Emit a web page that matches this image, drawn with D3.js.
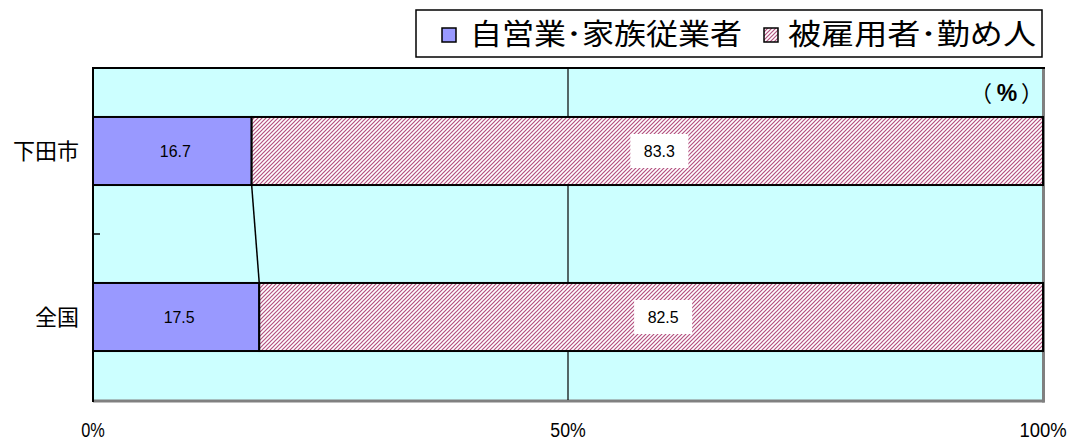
<!DOCTYPE html>
<html>
<head>
<meta charset="utf-8">
<script src="https://cdn.jsdelivr.net/npm/d3@7"></script>
<style>
  html, body { margin: 0; padding: 0; background: #fff; }
  svg { display: block; }
</style>
</head>
<body>
<svg id="chart" width="1070" height="441"></svg>
<script>
// Employment status share (%) — 下田市 vs 全国
const categories = ["下田市", "全国"];
const seriesNames = ["自営業･家族従業者", "被雇用者･勤め人"];
const selfEmployed = [16.7, 17.5];
const employees = [83.3, 82.5];
const tickValues = [0, 50, 100];
const tickLabels = ["0%", "50%", "100%"];

const svg = d3.select("#chart");
const plot = { left: 93, right: 1043, top: 68, bottom: 400 };

const x = d3.scaleLinear().domain([0, 100]).range([plot.left, plot.right]);
const y = d3.scaleBand().domain(categories)
  .range([plot.top, plot.bottom])
  .paddingInner(0.59).paddingOuter(0.295);

const jp = "'Noto Sans CJK JP', 'Noto Sans', sans-serif";
const num = "'Liberation Sans', Arial, sans-serif";

// diagonal hatch for the employee series
const defs = svg.append("defs");
const pat = defs.append("pattern")
  .attr("id", "hatch").attr("patternUnits", "userSpaceOnUse")
  .attr("width", 4).attr("height", 4);
pat.append("rect").attr("width", 4).attr("height", 4).attr("fill", "#fff");
pat.append("path")
  .attr("d", "M-1,1 L1,-1 M0,4 L4,0 M3,5 L5,3")
  .attr("stroke", "#b4507f").attr("stroke-width", 1.2);

// plot-area background with gray shadow on bottom/right
svg.append("rect")
  .attr("x", plot.left).attr("y", plot.top)
  .attr("width", plot.right - plot.left).attr("height", plot.bottom - plot.top)
  .attr("fill", "#ccffff");
svg.append("line")
  .attr("x1", plot.left).attr("x2", plot.right + 1.5)
  .attr("y1", plot.bottom + 1).attr("y2", plot.bottom + 1)
  .attr("stroke", "#808080").attr("stroke-width", 3);
svg.append("line")
  .attr("x1", plot.right + 0.5).attr("x2", plot.right + 0.5)
  .attr("y1", plot.top).attr("y2", plot.bottom + 2.5)
  .attr("stroke", "#808080").attr("stroke-width", 3);

// 50% gridline
svg.append("g").selectAll("line")
  .data(tickValues.filter(v => v > 0 && v < 100))
  .join("line")
  .attr("x1", d => x(d)).attr("x2", d => x(d))
  .attr("y1", plot.top).attr("y2", plot.bottom)
  .attr("stroke", "#000").attr("stroke-width", 1.2);

// top and left frame
svg.append("path")
  .attr("d", `M${plot.left},${plot.bottom + 2}V${plot.top}H${plot.right + 2}`)
  .attr("fill", "none").attr("stroke", "#000").attr("stroke-width", 2);

// category boundary tick
const boundary = (y(categories[0]) + y.bandwidth() + y(categories[1])) / 2;
svg.append("line")
  .attr("x1", plot.left).attr("x2", plot.left + 7)
  .attr("y1", boundary).attr("y2", boundary)
  .attr("stroke", "#000").attr("stroke-width", 1.5);

// stacked bars
const rows = categories.map((c, i) => ({ cat: c, a: selfEmployed[i], b: employees[i] }));
const bars = svg.append("g");
bars.selectAll("rect.a").data(rows).join("rect")
  .attr("x", x(0)).attr("y", d => y(d.cat))
  .attr("width", d => x(d.a) - x(0)).attr("height", y.bandwidth())
  .attr("fill", "#9999ff").attr("stroke", "#000").attr("stroke-width", 2);
bars.selectAll("rect.b").data(rows).join("rect")
  .attr("x", d => x(d.a)).attr("y", d => y(d.cat))
  .attr("width", d => x(d.a + d.b) - x(d.a)).attr("height", y.bandwidth())
  .attr("fill", "url(#hatch)").attr("stroke", "#000").attr("stroke-width", 2);

// series line connecting the two bars
svg.append("line")
  .attr("x1", x(rows[0].a)).attr("y1", y(rows[0].cat) + y.bandwidth())
  .attr("x2", x(rows[1].a)).attr("y2", y(rows[1].cat))
  .attr("stroke", "#000").attr("stroke-width", 1.5);

// value labels
const labA = svg.append("g");
labA.selectAll("text").data(rows).join("text")
  .attr("x", d => (x(0) + x(d.a)) / 2 + 3)
  .attr("y", d => y(d.cat) + y.bandwidth() / 2)
  .attr("dy", "0.36em").attr("text-anchor", "middle")
  .attr("font-family", num).attr("font-size", 17).attr("fill", "#000")
  .attr("textLength", 31).attr("lengthAdjust", "spacingAndGlyphs")
  .text(d => d.a.toFixed(1));

const labB = svg.append("g");
const lb = labB.selectAll("g").data(rows).join("g")
  .attr("transform", d => `translate(${(x(d.a) + x(d.a + d.b)) / 2 + 12},${y(d.cat) + y.bandwidth() / 2})`);
lb.append("rect").attr("x", -29).attr("y", -17).attr("width", 58).attr("height", 34).attr("fill", "#fff");
lb.append("text").attr("dy", "0.36em").attr("text-anchor", "middle")
  .attr("font-family", num).attr("font-size", 17).attr("fill", "#000")
  .attr("textLength", 31).attr("lengthAdjust", "spacingAndGlyphs")
  .text(d => d.b.toFixed(1));

// category labels
svg.append("g").selectAll("text").data(categories).join("text")
  .attr("x", 79).attr("y", d => y(d) + y.bandwidth() / 2)
  .attr("dy", "0.36em").attr("text-anchor", "end")
  .attr("font-family", jp).attr("font-size", 22).attr("fill", "#000")
  .text(d => d);

// x-axis tick labels
svg.append("g").selectAll("text").data(tickValues).join("text")
  .attr("x", d => x(d)).attr("y", 437)
  .attr("text-anchor", "middle")
  .attr("font-family", num).attr("font-size", 20).attr("fill", "#000")
  .attr("textLength", (d, i) => tickLabels[i].length * 11.8)
  .attr("lengthAdjust", "spacingAndGlyphs")
  .text((d, i) => tickLabels[i]);

// unit label "（%）": full-width brackets around a bold percent sign
const unitParts = [
  { t: "（", x: 981, font: jp, w: "normal", size: 22 },
  { t: "%", x: 1007, font: num, w: "bold", size: 23 },
  { t: "）", x: 1032, font: jp, w: "normal", size: 22 }
];
svg.append("g").selectAll("text").data(unitParts).join("text")
  .attr("x", d => d.x).attr("y", 93).attr("dy", "0.36em")
  .attr("text-anchor", "middle")
  .attr("font-family", d => d.font).attr("font-weight", d => d.w)
  .attr("font-size", d => d.size).attr("fill", "#000")
  .text(d => d.t);

// legend
const lg = svg.append("g");
lg.append("rect").attr("x", 416).attr("y", 10).attr("width", 626).attr("height", 47)
  .attr("fill", "#fff").attr("stroke", "#000").attr("stroke-width", 1.5);
const legendItems = [
  { name: seriesNames[0], fill: "#9999ff", mx: 442, tx: 470, tw: 272 },
  { name: seriesNames[1], fill: "url(#hatch)", mx: 764, tx: 788, tw: 248 }
];
legendItems.forEach(it => {
  lg.append("rect").attr("x", it.mx).attr("y", 28).attr("width", 14).attr("height", 14)
    .attr("fill", it.fill).attr("stroke", "#000").attr("stroke-width", 1.5);
  lg.append("text").attr("x", it.tx).attr("y", 35).attr("dy", "0.36em")
    .attr("font-family", jp).attr("font-size", 29).attr("fill", "#000")
    .attr("textLength", it.tw).attr("lengthAdjust", "spacingAndGlyphs")
    .text(it.name);
});
</script>
</body>
</html>
